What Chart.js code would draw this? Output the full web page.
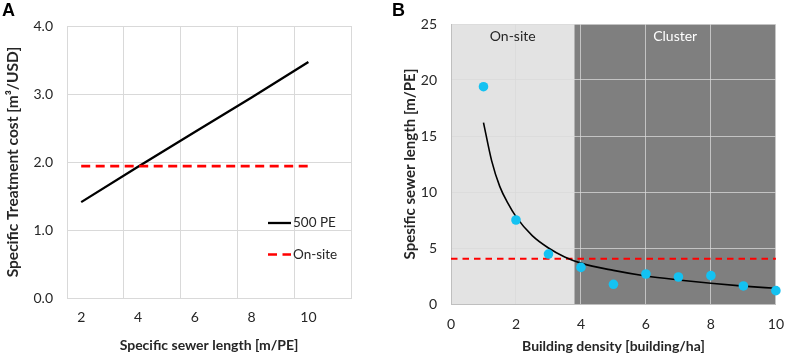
<!DOCTYPE html>
<html>
<head>
<meta charset="utf-8">
<script src="https://cdn.jsdelivr.net/npm/chart.js@4.4.1/dist/chart.umd.min.js"></script>
<style>
  html, body { margin: 0; padding: 0; background: #fff; }
  body { width: 796px; height: 355px; position: relative; overflow: hidden; }
  .panel { position: absolute; top: 0; }
  .letter { position: absolute; font-family: "Liberation Sans", Arial, sans-serif; font-weight: bold; font-size: 18px; color: #000; line-height: 1; }
</style>
</head>
<body>
<div class="panel" style="left:0;width:390px;height:355px;"><canvas id="chartA" width="390" height="355"></canvas></div>
<div class="panel" style="left:390px;width:406px;height:355px;"><canvas id="chartB" width="406" height="355"></canvas></div>
<div class="letter" style="left:2px;top:1px;">A</div>
<div class="letter" style="left:392px;top:1px;">B</div>
<script>
// ---------- Panel A data ----------
const sewerLengthCats = [2, 4, 6, 8, 10];
const cost500PE = [1.41, 1.93, 2.44, 2.95, 3.47];
const costOnSite = [1.94, 1.94, 1.94, 1.94, 1.94];
const costTicks = [0, 1, 2, 3, 4];
const seriesNamesA = ['500 PE', 'On-site'];

// ---------- Panel B data ----------
const buildingDensity = [1, 2, 3, 4, 5, 6, 7, 8, 9, 10];
const sewerLength = [19.4, 7.5, 4.46, 3.27, 1.76, 2.68, 2.41, 2.53, 1.61, 1.19];
const trendDensity = [1, 1.25, 1.5, 1.75, 2, 2.5, 3, 3.5, 4, 5, 6, 7, 8, 9, 10];
const trendLength = [16.2, 12.8, 10.5, 9.0, 7.8, 6.1, 5.0, 4.2, 3.65, 3.0, 2.5, 2.15, 1.85, 1.6, 1.4];
const onSiteThreshold = 4.05;
const thresholdRange = [0, 10];
const zoneNames = ['On-site', 'Cluster'];
const zoneBounds = [0, 3.8, 10];
const densityTicks = [0, 2, 4, 6, 8, 10];
const lengthTicks = [0, 5, 10, 15, 20, 25];

const FONT = 'Lato, "Open Sans", sans-serif';
const TXT = '#262626';

// ---------- Chart A ----------
const legendA = {
  id: 'legendA',
  afterDraw(chart) {
    const ctx = chart.ctx, ca = chart.chartArea;
    const x0 = ca.left + 201, x1 = x0 + 23;
    const ys = [ca.top + 197, ca.top + 228.5];
    chart.data.datasets.forEach((ds, i) => {
      ctx.save();
      ctx.strokeStyle = ds.borderColor;
      ctx.lineWidth = ds.borderWidth;
      ctx.setLineDash(ds.borderDash || []);
      ctx.beginPath();
      ctx.moveTo(x0, ys[i]);
      ctx.lineTo(x1, ys[i]);
      ctx.stroke();
      ctx.setLineDash([]);
      ctx.fillStyle = TXT;
      ctx.font = '13.5px ' + FONT;
      ctx.textBaseline = 'middle';
      ctx.textAlign = 'left';
      ctx.fillText(ds.label, x1 + 2, ys[i]);
      ctx.restore();
    });
  }
};

new Chart(document.getElementById('chartA'), {
  type: 'line',
  data: {
    datasets: [
      {
        label: seriesNamesA[0],
        data: sewerLengthCats.map((x, i) => ({ x, y: cost500PE[i] })),
        borderColor: '#000000',
        borderWidth: 2.3,
        pointRadius: 0,
        order: 2
      },
      {
        label: seriesNamesA[1],
        data: sewerLengthCats.map((x, i) => ({ x, y: costOnSite[i] })),
        borderColor: '#ff0000',
        borderWidth: 2.7,
        borderDash: [9, 5.5],
        pointRadius: 0,
        order: 1
      }
    ]
  },
  options: {
    responsive: false,
    animation: false,
    devicePixelRatio: 1,
    layout: { padding: { top: 26, right: 39, bottom: 0, left: 0 } },
    plugins: { legend: { display: false }, tooltip: { enabled: false } },
    scales: {
      x: {
        type: 'linear',
        min: 1.5,
        max: 11.5,
        afterBuildTicks(scale) {
          const t = [];
          sewerLengthCats.forEach(v => { t.push({ value: v - 0.5 }); t.push({ value: v }); });
          t.push({ value: 11.5 });
          scale.ticks = t;
        },
        afterFit(scale) { scale.height = 57; },
        grid: {
          drawTicks: false,
          color: ctx => (ctx.tick && Number.isInteger(ctx.tick.value)) ? 'rgba(0,0,0,0)' : '#d9d9d9',
          lineWidth: 1
        },
        border: { display: true, color: '#d9d9d9' },
        ticks: {
          padding: 11,
          color: TXT,
          font: { family: FONT, size: 14 },
          autoSkip: false,
          maxRotation: 0,
          callback: v => Number.isInteger(v) ? String(v) : ''
        },
        title: {
          display: true,
          text: 'Specific sewer length [m/PE]',
          color: TXT,
          font: { family: FONT, size: 14, weight: 'bold' },
          padding: { top: 0, bottom: 1.5 }
        }
      },
      y: {
        min: 0,
        max: 4,
        afterBuildTicks(scale) { scale.ticks = costTicks.map(v => ({ value: v })); },
        afterFit(scale) { scale.width = 67; },
        grid: { drawTicks: false, color: '#d9d9d9' },
        border: { display: true, color: '#d9d9d9' },
        ticks: {
          padding: 14,
          color: TXT,
          font: { family: FONT, size: 14 },
          callback: v => v.toFixed(1)
        },
        title: {
          display: true,
          text: 'Specific Treatment cost [m³/USD]',
          color: TXT,
          font: { family: FONT, size: 15.5, weight: 'bold' },
          padding: { top: 4, bottom: 0 }
        }
      }
    }
  },
  plugins: [legendA]
});

// ---------- Chart B ----------
const zonesB = {
  id: 'zonesB',
  beforeDraw(chart) {
    const ctx = chart.ctx, ca = chart.chartArea, xs = chart.scales.x;
    const fills = ['#e3e3e3', '#7f7f7f'];
    ctx.save();
    for (let i = 0; i < zoneNames.length; i++) {
      const a = xs.getPixelForValue(zoneBounds[i]);
      const b = xs.getPixelForValue(zoneBounds[i + 1]);
      ctx.fillStyle = fills[i];
      ctx.fillRect(a, ca.top, b - a, ca.bottom - ca.top);
    }
    ctx.restore();
  },
  afterDraw(chart) {
    const ctx = chart.ctx, ca = chart.chartArea, xs = chart.scales.x;
    const colors = ['#262626', '#ffffff'];
    ctx.save();
    ctx.font = '14px ' + FONT;
    ctx.textAlign = 'center';
    ctx.textBaseline = 'middle';
    for (let i = 0; i < zoneNames.length; i++) {
      const mid = (zoneBounds[i] + zoneBounds[i + 1]) / 2;
      ctx.fillStyle = colors[i];
      ctx.fillText(zoneNames[i], xs.getPixelForValue(mid), ca.top + 12);
    }
    ctx.restore();
  }
};

new Chart(document.getElementById('chartB'), {
  type: 'scatter',
  data: {
    datasets: [
      {
        type: 'scatter',
        label: 'Data',
        data: buildingDensity.map((x, i) => ({ x, y: sewerLength[i] })),
        backgroundColor: '#14c2f2',
        borderWidth: 0,
        pointRadius: 4.8,
        clip: false
      },
      {
        type: 'line',
        label: 'Trend',
        data: trendDensity.map((x, i) => ({ x, y: trendLength[i] })),
        borderColor: '#000000',
        borderWidth: 1.6,
        pointRadius: 0,
        cubicInterpolationMode: 'monotone',
        fill: false
      },
      {
        type: 'line',
        label: 'On-site',
        data: thresholdRange.map(x => ({ x, y: onSiteThreshold })),
        borderColor: '#ff0000',
        borderWidth: 2,
        borderDash: [6.5, 5],
        pointRadius: 0,
        fill: false
      }
    ]
  },
  options: {
    responsive: false,
    animation: false,
    devicePixelRatio: 1,
    layout: { padding: { top: 24, right: 9, bottom: 0, left: 0 } },
    plugins: { legend: { display: false }, tooltip: { enabled: false } },
    scales: {
      x: {
        type: 'linear',
        min: 0,
        max: 10,
        afterBuildTicks(scale) { scale.ticks = densityTicks.map(v => ({ value: v })); },
        afterFit(scale) { scale.height = 51; },
        grid: { drawTicks: false, color: 'rgba(217,217,217,0.75)' },
        border: { display: true, color: '#bfbfbf' },
        ticks: {
          padding: 12,
          color: TXT,
          font: { family: FONT, size: 14 },
          maxRotation: 0,
          autoSkip: false
        },
        title: {
          display: true,
          text: 'Building density [building/ha]',
          color: TXT,
          font: { family: FONT, size: 14, weight: 'bold' },
          padding: { top: 0, bottom: 0 }
        }
      },
      y: {
        min: 0,
        max: 25,
        afterBuildTicks(scale) { scale.ticks = lengthTicks.map(v => ({ value: v })); },
        afterFit(scale) { scale.width = 61; },
        grid: { drawTicks: false, color: 'rgba(217,217,217,0.75)' },
        border: { display: true, color: '#bfbfbf' },
        ticks: {
          padding: 14,
          color: TXT,
          font: { family: FONT, size: 14 }
        },
        title: {
          display: true,
          text: 'Spesific sewer length [m/PE]',
          color: TXT,
          font: { family: FONT, size: 15, weight: 'bold' },
          padding: { top: 11, bottom: 0 }
        }
      }
    }
  },
  plugins: [zonesB]
});
</script>
</body>
</html>
